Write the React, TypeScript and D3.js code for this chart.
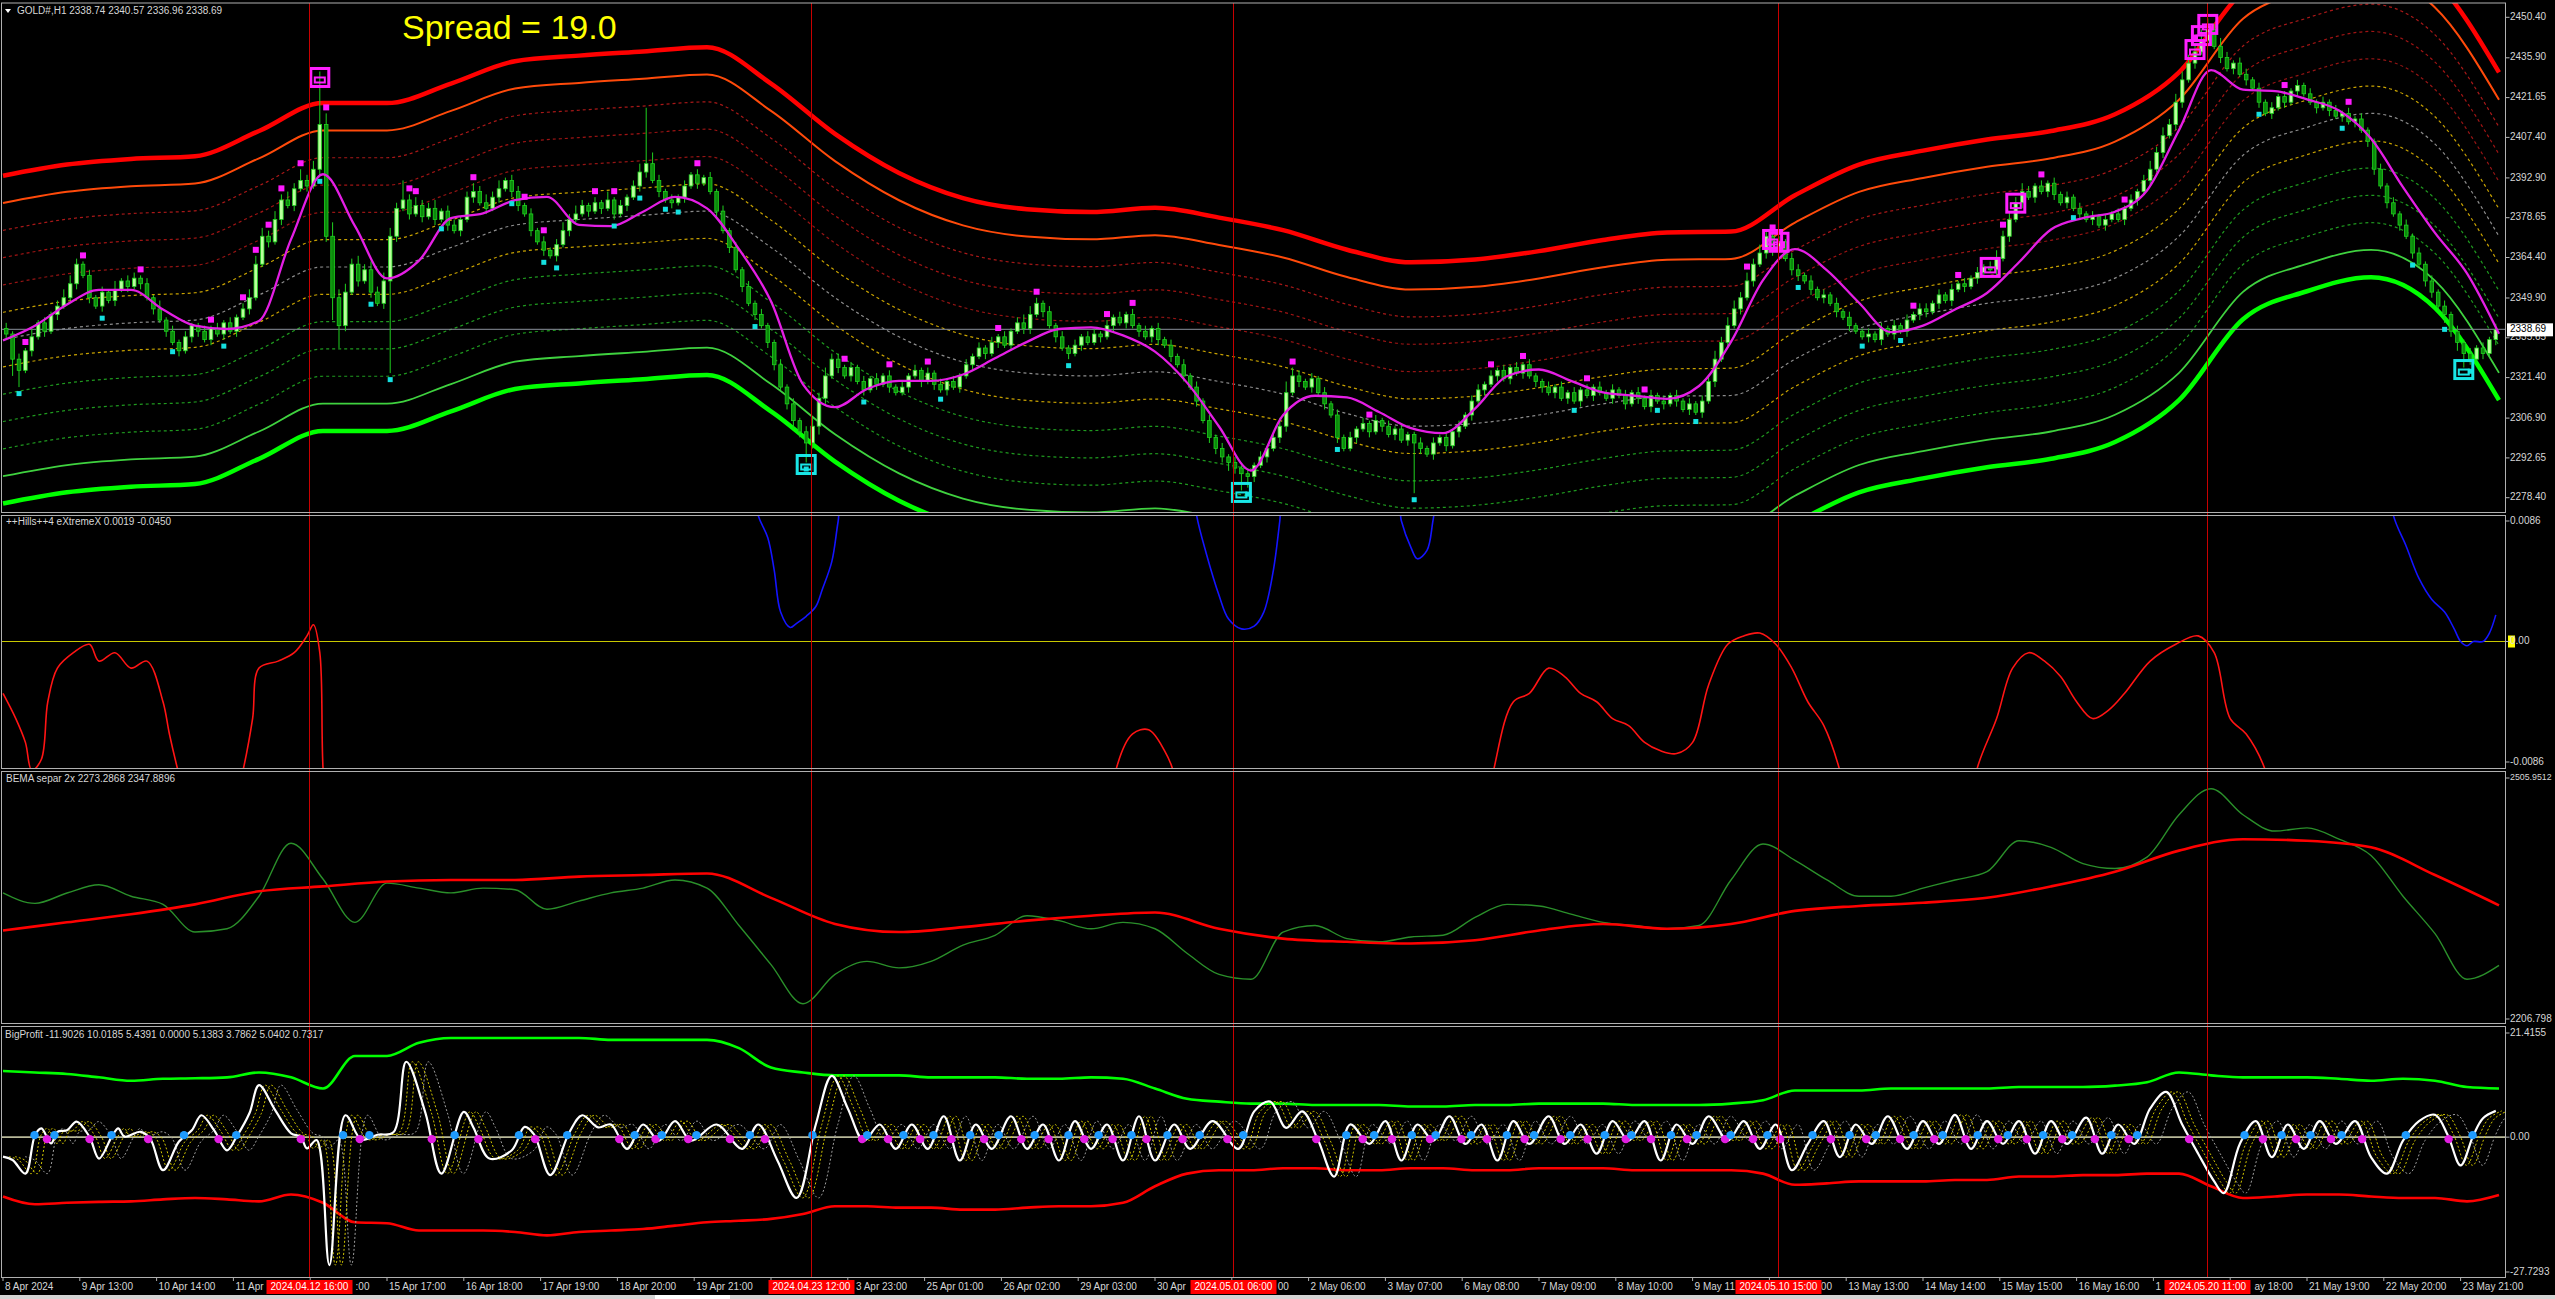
import React from 'react';
import * as d3 from 'd3';

const W = 2555;
const H = 1299;
const PLOT_L = 1.5;
const PLOT_R = 2505.5;

// ---- time axis (hours since first bar, H1 chart, 780 bars) ----
const timeLabels = [
  '8 Apr 2024', '9 Apr 13:00', '10 Apr 14:00', '11 Apr 15:00', '12 Apr 16:00', '15 Apr 17:00',
  '16 Apr 18:00', '17 Apr 19:00', '18 Apr 20:00', '19 Apr 21:00', '22 Apr 22:00', '23 Apr 23:00',
  '25 Apr 01:00', '26 Apr 02:00', '29 Apr 03:00', '30 Apr 04:00', '1 May 05:00', '2 May 06:00',
  '3 May 07:00', '6 May 08:00', '7 May 09:00', '8 May 10:00', '9 May 11:00', '10 May 12:00',
  '13 May 13:00', '14 May 14:00', '15 May 15:00', '16 May 16:00', '17 May 17:00', '20 May 18:00',
  '21 May 19:00', '22 May 20:00', '23 May 21:00',
];
const labelEveryHours = 24;

const vLineHours = [95.6, 252.5, 384.4, 554.7, 688.75];
const vLineLabels = ['2024.04.12 16:00', '2024.04.23 12:00', '2024.05.01 06:00', '2024.05.10 15:00', '2024.05.20 11:00'];

// ---- price candles (2h buckets) ----
const firstOpen = 2339;
const closes = [
  2337, 2328, 2324, 2331, 2336, 2341, 2338, 2344, 2347, 2350,
  2355, 2362, 2358, 2350, 2347, 2352, 2349, 2353, 2356, 2354,
  2357, 2355, 2350, 2346, 2342, 2338, 2334, 2331, 2336, 2340,
  2338, 2335, 2339, 2337, 2341, 2338, 2343, 2346, 2350, 2362,
  2372, 2370, 2378, 2385, 2383, 2389, 2392, 2390, 2396, 2412,
  2372, 2350, 2340, 2352, 2362, 2356, 2360, 2352, 2348, 2356,
  2372, 2382, 2385, 2380, 2383, 2379, 2382, 2378, 2381, 2376,
  2374, 2378, 2386, 2388, 2384, 2382, 2386, 2389, 2392, 2388,
  2383, 2380, 2374, 2370, 2367, 2365, 2369, 2374, 2378, 2380,
  2383, 2381, 2384, 2382, 2385, 2380, 2383, 2386, 2390, 2395,
  2398, 2392, 2388, 2385, 2384, 2386, 2390, 2394, 2391, 2393,
  2388, 2381, 2374, 2368, 2360, 2354, 2348, 2344, 2340, 2334,
  2326, 2318, 2312, 2306, 2302, 2298, 2304, 2314, 2322, 2328,
  2325, 2322, 2325, 2320, 2317, 2321, 2319, 2322, 2318, 2316,
  2318, 2322, 2324, 2320, 2323, 2319, 2317, 2320, 2318, 2322,
  2326, 2329, 2332, 2330, 2334, 2336, 2333, 2338, 2341, 2339,
  2344, 2348, 2345, 2340, 2336, 2332, 2330, 2333, 2336, 2334,
  2337, 2336, 2340, 2343, 2341, 2344, 2340, 2338, 2336, 2339,
  2335, 2333, 2329, 2326, 2322, 2318, 2313, 2306, 2300, 2296,
  2293, 2291, 2289, 2287, 2286, 2290, 2293, 2296, 2300, 2304,
  2316, 2322, 2320, 2318, 2321, 2316, 2312, 2308, 2300, 2296,
  2300, 2303, 2305, 2302, 2306, 2304, 2301, 2303, 2299, 2301,
  2298, 2296, 2294, 2298, 2300, 2297, 2302, 2304, 2308, 2313,
  2317, 2319, 2322, 2324, 2321, 2325, 2323, 2326, 2322, 2320,
  2318, 2316, 2318, 2314, 2316, 2313, 2317, 2315, 2318, 2316,
  2314, 2317, 2315, 2312, 2316, 2314, 2311, 2315, 2313, 2312,
  2315, 2313, 2310, 2312, 2309, 2313, 2320, 2328, 2334, 2340,
  2346, 2350, 2356, 2362, 2366, 2372, 2368, 2370, 2364, 2360,
  2358, 2356, 2353, 2350, 2351, 2348, 2345, 2343, 2340, 2338,
  2336, 2337, 2335, 2339, 2337, 2340, 2338, 2342, 2344, 2346,
  2345, 2348, 2351, 2349, 2353, 2355, 2354, 2357, 2359, 2361,
  2360, 2364, 2372, 2378, 2384, 2388, 2386, 2390, 2388, 2391,
  2387, 2384, 2386, 2382, 2380, 2378, 2379, 2376, 2378, 2380,
  2378, 2382, 2385, 2388, 2392, 2396, 2402, 2408, 2412, 2420,
  2428, 2434, 2438, 2442, 2446, 2440, 2436, 2432, 2434, 2430,
  2428, 2425, 2420, 2416, 2418, 2422, 2420, 2424, 2426, 2423,
  2420, 2418, 2420, 2417, 2415, 2416, 2413, 2414, 2410, 2406,
  2396, 2390, 2384, 2380, 2376, 2372, 2366, 2362, 2356, 2352,
  2347, 2344, 2338, 2334, 2330, 2328, 2332, 2330, 2335, 2338.69,
];
// wick lengths in dollars, one digit per candle
const upperWicks = [
  '2121312123', '3212121312', '2121312121', '1212121233', '3232324239',
  '4533232323', '3232322312', '2123232312', '2121212323', '2121312123',
  '6421212121', '2121212121', '1212123232', '2121212121', '2121212121',
  '2121212123', '3212121212', '2121212121', '2121212121', '2121212123',
  '4321212121', '2121212121', '1212121212', '2121212121', '1212121212',
  '1212121212', '1212122323', '3232321212', '2121212121', '1212121212',
  '2121212121', '2323232121', '2121212121', '2121232323', '3334323212',
  '2121212121', '2121212121', '1212121212', '1212121212',
].join('');
const lowerWicks = [
  '2621212121', '1212121212', '1212121212', '2121212121', '1212121212',
  '2812121212', '5212121212', '1212121212', '2121212121', '1212121212',
  '2121212121', '1212121212', '2123242321', '2121212121', '1212121212',
  '1212121212', '2121212121', '1212121212', '2121212122', '2323421212',
  '2121212121', '1212121212', '5212121212', '1212121212', '2121212121',
  '1212121212', '1212121212', '1212123212', '2121212121', '1212121212',
  '2121212121', '1212121212', '2121212121', '1212121212', '2121212121',
  '2121212121', '1212121212', '2121212122', '2323421212',
].join('');
const highSpikes: [number, number][] = [[49, 2431], [100, 2418], [344, 2450], [62, 2392]];
const lowSpikes: [number, number][] = [[2, 2318], [52, 2332], [60, 2323], [125, 2291], [193, 2281], [220, 2280], [384, 2325]];

const fractalHighs = [3, 12, 21, 32, 37, 39, 41, 43, 46, 50, 63, 64, 73, 81, 84, 92, 95, 108, 131, 138, 144, 155, 161, 172, 176, 201, 213, 232, 237, 247, 256, 272, 276, 298, 305, 312, 318, 331, 342, 356, 366];
const fractalLows = [2, 15, 26, 34, 49, 57, 60, 68, 79, 84, 86, 95, 99, 103, 105, 117, 125, 134, 146, 166, 194, 208, 220, 245, 258, 264, 280, 290, 296, 323, 352, 365, 376, 381, 385];
const signalHighBoxes = [49, 276, 277, 310, 314, 342, 343, 344];
const signalLowBoxes = [125, 193, 384];

const priceTicks = [2450.4, 2435.9, 2421.65, 2407.4, 2392.9, 2378.65, 2364.4, 2349.9, 2335.65, 2321.4, 2306.9, 2292.65, 2278.4];
const lastPrice = 2338.69;

// ---- channel centre (every 20h) and step between channel lines ----
const bandCentre = [
  2335, 2339, 2341, 2342, 2351, 2361, 2361, 2368, 2376, 2378,
  2379.5, 2381, 2368, 2350, 2336, 2327, 2323, 2322, 2323.5, 2320,
  2315.5, 2308.5, 2304, 2305, 2308, 2312, 2314.7, 2315, 2328, 2339,
  2344, 2348, 2351, 2357, 2372, 2401, 2411, 2416, 2405, 2372,
];
const bandStep = 9.78;
const bandLevels = [6, 5, 4, 3, 2, 1, 0, -1, -2, -3, -4, -5, -6];
const bandColors = ['#ff0000', '#ff4a0a', '#a81818', '#a01414', '#951414', '#c8a200', '#8c8c8c', '#c8a200', '#1f9a1f', '#1f9a1f', '#1f9a1f', '#3fd23f', '#00ff00'];
const bandWidths = [4.5, 2, 1.2, 1.2, 1.2, 1.2, 1.2, 1.2, 1.2, 1.2, 1.2, 1.8, 4.5];

// magenta smoothing line (every 10h)
const smoothLine = [
  2334.7, 2340, 2347.6, 2352.8, 2352.8, 2345.8, 2340, 2338.8, 2341.7, 2370.9,
  2394.2, 2375.6, 2356.9, 2363.3, 2378.5, 2380.2, 2384.9, 2386.1, 2376.1, 2375.6,
  2380.8, 2386.1, 2382, 2367.4, 2348.7, 2319, 2310.8, 2317.3, 2320.2, 2320.2,
  2322.5, 2328.3, 2334.2, 2338.8, 2339.4, 2336.5, 2330.7, 2319.6, 2303.9, 2288.1,
  2307.9, 2314.9, 2314.3, 2309.1, 2303.3, 2301.5, 2310.3, 2321.9, 2324.3, 2320.2,
  2316.1, 2314.9, 2313.8, 2318.4, 2334.2, 2356.3, 2367.4, 2359.8, 2348.2, 2337.7,
  2340, 2345.8, 2351.7, 2362.7, 2374.4, 2378.5, 2380.8, 2388.4, 2410, 2431.5,
  2424.5, 2424, 2421, 2417, 2407, 2389.6, 2373.2, 2358.7, 2337.1,
];

// ---- ++Hills++4 eXtremeX : [hour, value] ----
const hillsRed: [number, number][] = [
  [0, -0.0037], [4, -0.0055], [7, -0.0072], [9, -0.0092], [12, -0.0084], [14, -0.0043], [17, -0.0019],
  [22, -0.0008], [27, -0.0002], [30, -0.0014], [35, -0.0008], [40, -0.0019], [45, -0.0014], [50, -0.0043],
  [52, -0.0066], [55, -0.0095], [60, -0.0136], [70, -0.0136], [75, -0.0092], [78, -0.0055], [80, -0.0019],
  [86, -0.0014], [91, -0.0008], [95, 0.0004], [97, 0.0012], [99, -0.0008], [100, -0.009], [102, -0.0148],
  [345, -0.0148], [348, -0.009], [353, -0.0066], [358, -0.0063], [363, -0.0078], [366, -0.0095], [368, -0.0148],
  [462, -0.0148], [466, -0.009], [472, -0.0043], [477, -0.0037], [483, -0.0019], [488, -0.0025], [493, -0.0037],
  [498, -0.0043], [503, -0.0055], [508, -0.006], [513, -0.0072], [518, -0.0078], [523, -0.008], [528, -0.0072],
  [533, -0.0031], [539, -0.0002], [544, 0.0004], [549, 0.0006], [554, -0.0002], [559, -0.0019], [564, -0.0043],
  [569, -0.006], [574, -0.0092], [579, -0.0148], [612, -0.0148], [617, -0.009], [623, -0.0055], [628, -0.0019],
  [633, -0.0008], [638, -0.0014], [643, -0.0025], [648, -0.0043], [653, -0.0055], [658, -0.0049], [663, -0.0037],
  [671, -0.0014], [679, -0.0002], [686, 0.0004], [691, -0.0008], [696, -0.0055], [701, -0.0066], [707, -0.0092],
  [712, -0.0148], [779, -0.045],
];
const hillsBlue: [number, number][] = [
  [0, 0.0125], [233, 0.0125], [236, 0.009], [239, 0.0074], [241, 0.0051], [243, 0.0021], [246, 0.001],
  [248, 0.0013], [251, 0.0018], [254, 0.0025], [256, 0.0037], [259, 0.0057], [261, 0.0086], [264, 0.0125],
  [371, 0.0125], [373, 0.009], [376, 0.0063], [380, 0.0033], [383, 0.0016], [387, 0.0009], [391, 0.0011],
  [394, 0.0021], [397, 0.0051], [399, 0.0086], [401, 0.0125], [434, 0.0125], [437, 0.0086], [440, 0.0067],
  [442, 0.0059], [445, 0.0065], [447, 0.0088], [450, 0.0125], [745, 0.0125], [747, 0.009], [751, 0.0068],
  [755, 0.0045], [759, 0.003], [763, 0.0021], [766, 0.0009], [768, 0.0], [770, -0.0003], [772, 0.0],
  [775, 0.0], [777, 0.0006], [779, 0.0019],
];

// ---- BEMA separ 2x ----
const bemaSlow = [
  2316.7, 2326.8, 2336.9, 2349.1, 2365.3, 2371.4, 2377.4, 2379.4, 2379.4, 2383.5,
  2385.5, 2387.5, 2357.2, 2324.8, 2314.7, 2320.8, 2328.9, 2335, 2339, 2318.8,
  2306.6, 2302.6, 2300.5, 2304.6, 2316.7, 2324.8, 2318.8, 2324.8, 2341, 2347.1,
  2351.1, 2357.2, 2371.4, 2389.6, 2415.8, 2430, 2428, 2419.9, 2385.5, 2347.9,
];
const bemaFast = [
  2363.3, 2350.3, 2363.2, 2373.4, 2359.2, 2349.1, 2314.7, 2318.8, 2359.2, 2425.0,
  2380.5, 2326.8, 2375.4, 2369.3, 2363.3, 2369.3, 2367.3, 2343, 2353.2, 2363.3,
  2369.3, 2379.4, 2369.3, 2322.8, 2274.3, 2225.7, 2262.1, 2278.3, 2270.2, 2278.3,
  2298.5, 2310.7, 2335, 2328.9, 2318.8, 2326.8, 2318.8, 2288.4, 2262.1, 2256.1,
  2314.7, 2322.8, 2306.6, 2302.6, 2308.6, 2310.7, 2332.9, 2349.1, 2347.1, 2337,
  2326.8, 2322.8, 2318.8, 2322.8, 2379.4, 2424, 2403.7, 2379.4, 2359.2, 2359.2,
  2369.3, 2379.4, 2389.6, 2428, 2419.9, 2399.7, 2393.6, 2407.7, 2460.3, 2492.7,
  2460.3, 2440.1, 2444.1, 2430, 2409.8, 2359.2, 2312.7, 2256.1, 2273.3,
];

// ---- BigProfit ----
const bpUpper = [
  13.6, 13.3, 13.0, 12.3, 11.6, 12.0, 12.1, 12.3, 13.3, 12.3,
  10.0, 16.7, 16.7, 19.4, 20.4, 20.4, 20.4, 20.4, 20.4, 20.0,
  20.0, 20.0, 20.0, 18.3, 14.3, 13.3, 12.7, 12.7, 12.7, 12.3,
  12.3, 12.3, 12.0, 12.0, 12.3, 12.0, 10.0, 7.9, 7.3, 6.9,
  6.9, 6.6, 6.6, 6.6, 6.3, 6.3, 6.6, 6.6, 6.9, 6.9,
  6.9, 6.6, 6.6, 6.6, 6.9, 7.6, 9.6, 9.6, 9.6, 10.0,
  10.0, 10.0, 10.0, 10.3, 10.3, 10.3, 10.6, 11.3, 13.3, 12.7,
  12.3, 12.3, 12.3, 12.0, 11.6, 12.0, 11.6, 10.3, 10.0,
];
const bpLower = [
  -12.2, -13.8, -13.5, -13.3, -13.2, -12.8, -12.5, -12.8, -13.2, -11.8,
  -13.5, -17.5, -17.7, -19.2, -19.2, -19.2, -19.5, -20.2, -19.5, -19.2,
  -18.9, -18.2, -17.5, -17.2, -16.8, -15.8, -14.2, -14.2, -14.5, -14.5,
  -14.9, -14.9, -14.5, -14.2, -14.2, -13.5, -10.1, -7.5, -6.8, -6.8,
  -6.4, -6.4, -6.8, -6.8, -6.4, -6.4, -6.8, -6.8, -6.4, -6.4,
  -6.4, -6.8, -6.8, -6.8, -6.8, -7.5, -9.8, -9.5, -9.1, -9.1,
  -9.1, -8.8, -8.8, -8.1, -8.1, -7.8, -7.8, -7.5, -7.5, -10.1,
  -12.5, -12.2, -11.8, -11.8, -12.2, -12.5, -12.5, -13.2, -11.9,
];
const bpMain: [number, number][] = [
  [0, -4.0], [3, -4.7], [7, -7.5], [10, 0.4], [12, 1.8], [15, -1.3], [17, 1.1], [20, 1.4], [23, 3.2],
  [27, 0.1], [30, -4.4], [34, 0.1], [36, 1.8], [38, 0.1], [43, 1.1], [46, -0.3], [50, -6.8], [55, -0.9],
  [59, 1.4], [62, 4.5], [66, 1.4], [70, -2.7], [73, 0.1], [77, 4.9], [80, 10.7], [85, 5.6], [90, 0.8],
  [93, 0.1], [95, -2.3], [98, -0.6], [102, -26.3], [107, 4.5], [112, -0.5], [117, 0.5], [122, 1.0],
  [126, 15.5], [132, 5.0], [137, -7.5], [144, 5.2], [147, 2.0], [152, -4.4], [159, -2.7], [163, 2.1],
  [166, 0.5], [171, -7.8], [177, 1.0], [181, 4.5], [186, 2.0], [190, 2.6], [195, -2.4], [200, 2.6],
  [205, -0.7], [210, 3.3], [215, -0.7], [223, 2.6], [231, -2.4], [236, 2.6], [242, -4.8], [248, -12.5],
  [254, 2.6], [259, 12.6], [264, 5.9], [269, -0.7], [274, 2.6], [279, -2.4], [284, 2.6], [289, -2.4],
  [294, 4.3], [299, -4.8], [304, 2.6], [309, -2.4], [315, 4.3], [320, -2.4], [325, 2.6], [330, -4.8],
  [335, 3.3], [340, -2.4], [345, 2.6], [350, -4.8], [355, 4.3], [360, -4.8], [366, 2.6], [371, -2.4],
  [378, 3.3], [386, -2.4], [391, 5.3], [396, 7.3], [401, 1.9], [406, 5.3], [411, -0.7], [416, -8.1],
  [421, 2.6], [427, -1.4], [432, 3.3], [437, -4.8], [442, 2.6], [447, -0.7], [452, 4.3], [457, -1.4],
  [462, 2.6], [467, -4.8], [472, 3.3], [477, -1.4], [483, 4.3], [488, -1.4], [493, 2.6], [498, -3.4],
  [503, 3.3], [508, -0.7], [513, 3.3], [518, -4.8], [523, 2.6], [528, -1.4], [533, 4.3], [539, -0.7],
  [544, 3.3], [549, -2.4], [554, 2.6], [559, -6.8], [564, -1.4], [569, 3.3], [574, -4.1], [579, 2.6],
  [584, -1.4], [589, 4.3], [595, -2.4], [600, 3.3], [605, -1.4], [610, 4.6], [615, -2.4], [620, 3.3],
  [625, -1.4], [630, 3.3], [635, -3.4], [640, 3.3], [645, -1.4], [651, 4.0], [656, -3.4], [661, 2.6],
  [666, -1.4], [671, 5.9], [676, 9.3], [681, 2.6], [686, -3.4], [691, -9.1], [694, -11.5], [699, -1.4],
  [704, 3.3], [709, -4.1], [714, 2.6], [719, -2.4], [724, 3.3], [729, -1.4], [735, 3.3], [740, -4.1],
  [745, -7.5], [750, -0.7], [755, 3.3], [760, 4.6], [764, 0.4], [768, -5.8], [772, 0.4], [775, 3.9],
  [779, 5.4],
];

const FONT = '"Liberation Sans", Arial, sans-serif';
const TXT = '#d6d6d6';
const BOX_HALF = 43;

export default function App() {
  const xH = d3.scaleLinear().domain([0, 780]).range([3, 2499]);
  const yMain = d3.scaleLinear().domain([2278.4, 2450.4]).range([497.7, 17.3]);
  const yHills = d3.scaleLinear().domain([-0.0086, 0.0086]).range([762, 521]);
  const yBema = d3.scaleLinear().domain([2206.798, 2505.9512]).range([1019, 778]);
  const yBP = d3.scaleLinear().domain([-27.7293, 21.4155]).range([1272, 1033]);

  const panels = [
    { id: 'p1', top: 3, bottom: 512.5 },
    { id: 'p2', top: 515.5, bottom: 768.5 },
    { id: 'p3', top: 771.5, bottom: 1023.5 },
    { id: 'p4', top: 1026.5, bottom: 1277.5 },
  ];

  const every = (vals: number[], step: number) => vals.map((v, i) => [i * step, v] as [number, number]);
  const mk = (y: any, curve: any = d3.curveMonotoneX) =>
    d3.line<[number, number]>().x(d => xH(d[0])).y(d => y(d[1])).curve(curve);

  // text width helper for the time axis (labels partly hidden by the red line tags)
  const ctx = typeof document !== 'undefined' ? document.createElement('canvas').getContext('2d') : null;
  const measure = (s: string) => {
    if (!ctx) return s.length * 5.2;
    ctx.font = `10px ${FONT}`;
    return ctx.measureText(s).width;
  };
  const vLineX = vLineHours.map(h => Math.round(xH(h)) + 0.5);

  // candles
  const candles = closes.map((c, j) => {
    const o = j === 0 ? firstOpen : closes[j - 1];
    let hi = Math.max(o, c) + Number(upperWicks[j] || 1);
    let lo = Math.min(o, c) - Number(lowerWicks[j] || 1);
    const hs = highSpikes.find(s => s[0] === j);
    if (hs) hi = hs[1];
    const ls = lowSpikes.find(s => s[0] === j);
    if (ls) lo = ls[1];
    return { j, o, c, hi, lo, x: xH(2 * j + 1) };
  });

  const bandPts = every(bandCentre, 20);
  const bandPath = (k: number) => mk(yMain)(bandPts.map(([h, v]) => [h, v + k * bandStep] as [number, number])) || '';

  // zero crossings of the BigProfit line
  const crossDots: { h: number; up: boolean }[] = [];
  for (let i = 1; i < bpMain.length; i++) {
    const [h0, v0] = bpMain[i - 1];
    const [h1, v1] = bpMain[i];
    if ((v0 < 0 && v1 >= 0) || (v0 > 0 && v1 <= 0)) {
      const t = v0 / (v0 - v1);
      crossDots.push({ h: h0 + t * (h1 - h0), up: v1 > v0 });
    }
  }
  const bpLine = mk(yBP, d3.curveCatmullRom.alpha(0.5))(bpMain) || '';

  const yZeroBP = yBP(0);
  const yZeroHills = yHills(0);

  // visible pieces of each time label (the red tags sit on top of them)
  const timePieces: { x: number; text: string; anchor: string }[] = [];
  timeLabels.forEach((t, i) => {
    const s = xH(i * labelEveryHours) + 2;
    const w = measure(t);
    const e = s + w;
    let segs: [number, number][] = [[s, e]];
    vLineX.forEach(bx => {
      const b0 = bx - BOX_HALF;
      const b1 = bx + BOX_HALF;
      const next: [number, number][] = [];
      segs.forEach(([a, b]) => {
        if (b <= b0 || a >= b1) next.push([a, b]);
        else {
          if (a < b0) next.push([a, b0]);
          if (b > b1) next.push([b1, b]);
        }
      });
      segs = next;
    });
    segs.forEach(([a, b]) => {
      if (a === s && b === e) {
        timePieces.push({ x: s, text: t, anchor: 'start' });
      } else if (a === s) {
        let k = t.length;
        while (k > 0 && measure(t.slice(0, k)) > b - s + 1) k--;
        const txt = t.slice(0, k).trimEnd();
        if (txt) timePieces.push({ x: s, text: txt, anchor: 'start' });
      } else if (b === e) {
        let k = 0;
        while (k < t.length && measure(t.slice(k)) > e - a + 1) k++;
        const txt = t.slice(k).trimStart();
        if (txt) timePieces.push({ x: e, text: txt, anchor: 'end' });
      }
    });
  });

  const rightLabel = (y: number, text: string, key: string, size = 10) => (
    <g key={key}>
      <line x1={PLOT_R} x2={PLOT_R + 4} y1={y} y2={y} stroke="#b4b4b4" />
      <text x={2510} y={y} dominantBaseline="middle" fontSize={size} fill={TXT} fontFamily={FONT}>{text}</text>
    </g>
  );

  return (
    <div style={{ position: 'fixed', left: 0, top: 0, width: W, height: H, background: '#000' }}>
      <svg width={W} height={H} style={{ display: 'block' }}>
        <rect x={0} y={0} width={W} height={H} fill="#000" />
        <defs>
          {panels.map(p => (
            <clipPath id={p.id} key={p.id}>
              <rect x={PLOT_L} y={p.top} width={PLOT_R - PLOT_L} height={p.bottom - p.top} />
            </clipPath>
          ))}
        </defs>

        {/* ===== main price panel ===== */}
        <g clipPath="url(#p1)">
          {bandLevels.map((k, i) => (
            <path key={k} d={bandPath(k)} fill="none" stroke={bandColors[i]} strokeWidth={bandWidths[i]}
              strokeDasharray={Math.abs(k) <= 4 ? '3 3' : undefined} />
          ))}
          <line x1={PLOT_L} x2={PLOT_R} y1={yMain(lastPrice)} y2={yMain(lastPrice)} stroke="#8a909c" strokeWidth={1} />
          {candles.map(d => {
            const bull = d.c >= d.o;
            const yt = yMain(Math.max(d.o, d.c));
            const yb = yMain(Math.min(d.o, d.c));
            return (
              <g key={d.j}>
                <line x1={d.x} x2={d.x} y1={yMain(d.hi)} y2={yMain(d.lo)} stroke="#1fd11f" strokeWidth={1} />
                <rect x={d.x - 1.8} y={yt} width={3.6} height={Math.max(1, yb - yt)}
                  fill={bull ? '#b9ff9c' : '#0b8a0b'} stroke="#1fd11f" strokeWidth={0.8} />
              </g>
            );
          })}
          <path d={mk(yMain)(every(smoothLine, 10)) || ''} fill="none" stroke="#e41ee4" strokeWidth={2.3} />
          {fractalHighs.map(j => (
            <rect key={'fh' + j} x={candles[j].x - 3} y={yMain(candles[j].hi) - 9} width={6} height={6} fill="#ff1aff" />
          ))}
          {fractalLows.map(j => (
            <rect key={'fl' + j} x={candles[j].x - 2.5} y={yMain(candles[j].lo) + 4} width={5} height={5} fill="#14e0e0" />
          ))}
          {signalHighBoxes.map(j => {
            const cx = candles[j].x;
            const cy = yMain(candles[j].hi) + 6;
            return (
              <g key={'sh' + j} fill="none" stroke="#ff20ff">
                <rect x={cx - 9} y={cy - 9} width={18} height={18} strokeWidth={3} />
                <rect x={cx - 5} y={cy} width={10} height={5} strokeWidth={2} />
              </g>
            );
          })}
          {signalLowBoxes.map(j => {
            const cx = candles[j].x;
            const cy = yMain(candles[j].lo) + 2;
            return (
              <g key={'sl' + j} fill="none" stroke="#19e6e6">
                <rect x={cx - 9} y={cy - 9} width={18} height={18} strokeWidth={3} />
                <rect x={cx - 5} y={cy} width={10} height={5} strokeWidth={2} />
              </g>
            );
          })}
        </g>

        {/* ===== Hills panel ===== */}
        <g clipPath="url(#p2)">
          <line x1={PLOT_L} x2={PLOT_R} y1={yZeroHills} y2={yZeroHills} stroke="#c8c800" strokeWidth={1} />
          <path d={mk(yHills, d3.curveCatmullRom.alpha(0.5))(hillsBlue) || ''} fill="none" stroke="#1414ff" strokeWidth={1.6} />
          <path d={mk(yHills, d3.curveCatmullRom.alpha(0.5))(hillsRed) || ''} fill="none" stroke="#ff1414" strokeWidth={1.6} />
        </g>

        {/* ===== BEMA panel ===== */}
        <g clipPath="url(#p3)">
          <path d={mk(yBema)(every(bemaFast, 10)) || ''} fill="none" stroke="#2a8f2a" strokeWidth={1.4} />
          <path d={mk(yBema)(every(bemaSlow, 20)) || ''} fill="none" stroke="#ff0000" strokeWidth={2.6} />
        </g>

        {/* ===== BigProfit panel ===== */}
        <g clipPath="url(#p4)">
          <line x1={PLOT_L} x2={PLOT_R} y1={yZeroBP} y2={yZeroBP} stroke="#b9b99a" strokeWidth={1.6} />
          <path d={mk(yBP)(every(bpUpper, 10)) || ''} fill="none" stroke="#00ff00" strokeWidth={2.6} />
          <path d={mk(yBP)(every(bpLower, 10)) || ''} fill="none" stroke="#ff0000" strokeWidth={2.6} />
          <path d={bpLine} transform="translate(22,0)" fill="none" stroke="#9c9c9c" strokeWidth={1} strokeDasharray="2 2" />
          <path d={bpLine} transform="translate(12,0)" fill="none" stroke="#cfc400" strokeWidth={1} strokeDasharray="2 2" />
          <path d={bpLine} transform="translate(6,0)" fill="none" stroke="#cfc400" strokeWidth={1} strokeDasharray="2 2" />
          <path d={bpLine} fill="none" stroke="#ffffff" strokeWidth={2.2} />
          {crossDots.map((d, i) => (
            <circle key={i} cx={xH(d.h)} cy={yZeroBP + (d.up ? -2 : 2)} r={4.2} fill={d.up ? '#1e9bff' : '#e01ee0'} />
          ))}
        </g>

        {/* vertical time markers */}
        {vLineX.map((x, i) => (
          <line key={'vl' + i} x1={x} x2={x} y1={3} y2={1277} stroke="#c80000" strokeWidth={1} />
        ))}

        {/* panel frames */}
        {panels.map(p => (
          <rect key={'f' + p.id} x={PLOT_L} y={p.top} width={PLOT_R - PLOT_L} height={p.bottom - p.top}
            fill="none" stroke="#b0b0b0" strokeWidth={1} />
        ))}

        {/* right axes */}
        {priceTicks.map(v => rightLabel(yMain(v), v.toFixed(2), 'pt' + v))}
        <rect x={2507} y={yMain(lastPrice) - 6} width={46} height={13} fill="#ffffff" />
        <text x={2510} y={yMain(lastPrice) + 0.5} dominantBaseline="middle" fontSize={10} fill="#000" fontFamily={FONT}>
          {lastPrice.toFixed(2)}
        </text>

        {rightLabel(yHills(0.0086), '0.0086', 'h1')}
        <rect x={2508} y={yZeroHills - 6} width={7} height={12} fill="#ffff00" />
        {rightLabel(yZeroHills, '0.00', 'h2')}
        {rightLabel(yHills(-0.0086), '-0.0086', 'h3')}

        {rightLabel(yBema(2505.9512), '2505.9512', 'b1', 8.8)}
        {rightLabel(yBema(2206.798), '2206.798', 'b2')}

        {rightLabel(yBP(21.4155), '21.4155', 'g1')}
        {rightLabel(yZeroBP, '0.00', 'g2')}
        {rightLabel(yBP(-27.7293), '-27.7293', 'g3')}

        {/* time axis */}
        {timeLabels.map((t, i) => {
          const x = xH(i * labelEveryHours);
          return <line key={'tk' + i} x1={x} x2={x} y1={1277} y2={1281} stroke="#b0b0b0" />;
        })}
        {timePieces.map((p, i) => (
          <text key={'tp' + i} x={p.x} y={1287} textAnchor={p.anchor} dominantBaseline="middle" fontSize={10}
            fill={TXT} fontFamily={FONT}>{p.text}</text>
        ))}
        {vLineX.map((x, i) => (
          <g key={'vb' + i}>
            <rect x={x - BOX_HALF} y={1280} width={BOX_HALF * 2} height={14} fill="#ff0000" />
            <text x={x} y={1287.5} textAnchor="middle" dominantBaseline="middle" fontSize={10} fill="#ffffff" fontFamily={FONT}>
              {vLineLabels[i]}
            </text>
          </g>
        ))}

        {/* headers */}
        <path d="M5,9 L11,9 L8,13 Z" fill="#ffffff" />
        <text x={17} y={11.5} dominantBaseline="middle" fontSize={10} fill={TXT} fontFamily={FONT}>
          GOLD#,H1  2338.74 2340.57 2336.96 2338.69
        </text>
        <text x={402} y={39} fontSize={34} fill="#ffff00" fontFamily={FONT}>Spread = 19.0</text>
        <text x={6} y={522.5} dominantBaseline="middle" fontSize={10} fill={TXT} fontFamily={FONT}>
          ++Hills++4 eXtremeX 0.0019 -0.0450
        </text>
        <text x={6} y={779} dominantBaseline="middle" fontSize={10} fill={TXT} fontFamily={FONT}>
          BEMA separ 2x 2273.2868 2347.8896
        </text>
        <text x={5} y={1035} dominantBaseline="middle" fontSize={10} fill={TXT} fontFamily={FONT}>
          BigProfit -11.9026 10.0185 5.4391 0.0000 5.1383 3.7862 5.0402 0.7317
        </text>

        {/* window scrollbar strip */}
        <rect x={0} y={1295} width={W} height={4} fill="#d4d4d4" />
        <rect x={655} y={1295} width={75} height={4} fill="#ffffff" />
      </svg>
    </div>
  );
}
